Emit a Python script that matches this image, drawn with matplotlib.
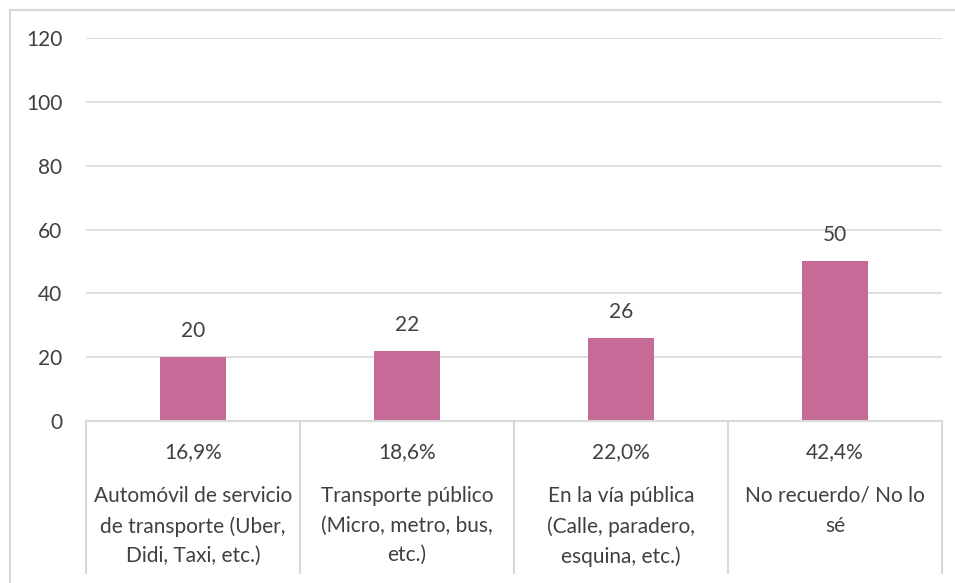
import matplotlib.pyplot as plt
from matplotlib.patches import Rectangle

# ========== Data ==========
categories = [
    "Automóvil de servicio\nde transporte (Uber,\nDidi, Taxi, etc.)",
    "Transporte público\n(Micro, metro, bus,\netc.)",
    "En la vía pública\n(Calle, paradero,\nesquina, etc.)",
    "No recuerdo/ No lo\nsé",
]
counts = [20, 22, 26, 50]
percents = ["16,9%", "18,6%", "22,0%", "42,4%"]
yticks = [0, 20, 40, 60, 80, 100, 120]

# ========== Style ==========
BAR_COLOR = "#C66B97"
TEXT_COLOR = "#404040"
GRID_COLOR = "#D9D9D9"
plt.rcParams['font.family'] = ['Lato', 'DejaVu Sans']
FS = 15

W, H = 955, 583
fig = plt.figure(figsize=(W / 100, H / 100), dpi=100)

# outer chart border
fig.patches.append(Rectangle((10 / W, -0.1), 1.2, 1 - 10 / H + 0.1, transform=fig.transFigure,
                             fill=False, edgecolor=GRID_COLOR, lw=1.5))

left, right, top, bottom = 86, 942, 38, 421
ax = fig.add_axes([left / W, 1 - bottom / H, (right - left) / W, (bottom - top) / H])

x = range(len(counts))
ax.bar(x, counts, width=0.31, color=BAR_COLOR, zorder=3)
ax.set_xlim(-0.5, len(counts) - 0.5)
ax.set_ylim(0, 120)
ax.set_yticks(yticks)
ax.tick_params(axis='y', length=0, pad=17, labelsize=FS, labelcolor=TEXT_COLOR)
ax.set_xticks([])
for s in ax.spines.values():
    s.set_visible(False)
ax.grid(axis='y', color=GRID_COLOR, lw=1.2, zorder=0)

for i, v in enumerate(counts):
    ax.annotate(str(v), (i, v), xytext=(0, 26), textcoords='offset pixels',
                ha='center', va='center', fontsize=FS, color=TEXT_COLOR)

# table-like category axis
tab_depth = (573 - bottom) / (bottom - top)
ax.plot([-0.5, len(counts) - 0.5], [0, 0], color=GRID_COLOR, lw=1.5, clip_on=False, zorder=4)
trans = ax.get_xaxis_transform()
for b in range(len(counts) + 1):
    ax.plot([b - 0.5, b - 0.5], [0, -tab_depth], transform=trans, color=GRID_COLOR,
            lw=1.5, clip_on=False)

for i, (p, c) in enumerate(zip(percents, categories)):
    ax.annotate(p, (i, 0), xytext=(0, -31), textcoords='offset pixels',
                ha='center', va='center', fontsize=FS, color=TEXT_COLOR)
    ax.annotate(c, (i, 0), xytext=(0, -65), textcoords='offset pixels',
                ha='center', va='top', fontsize=FS, color=TEXT_COLOR, linespacing=1.6)

fig.savefig("out.png", dpi=100)
